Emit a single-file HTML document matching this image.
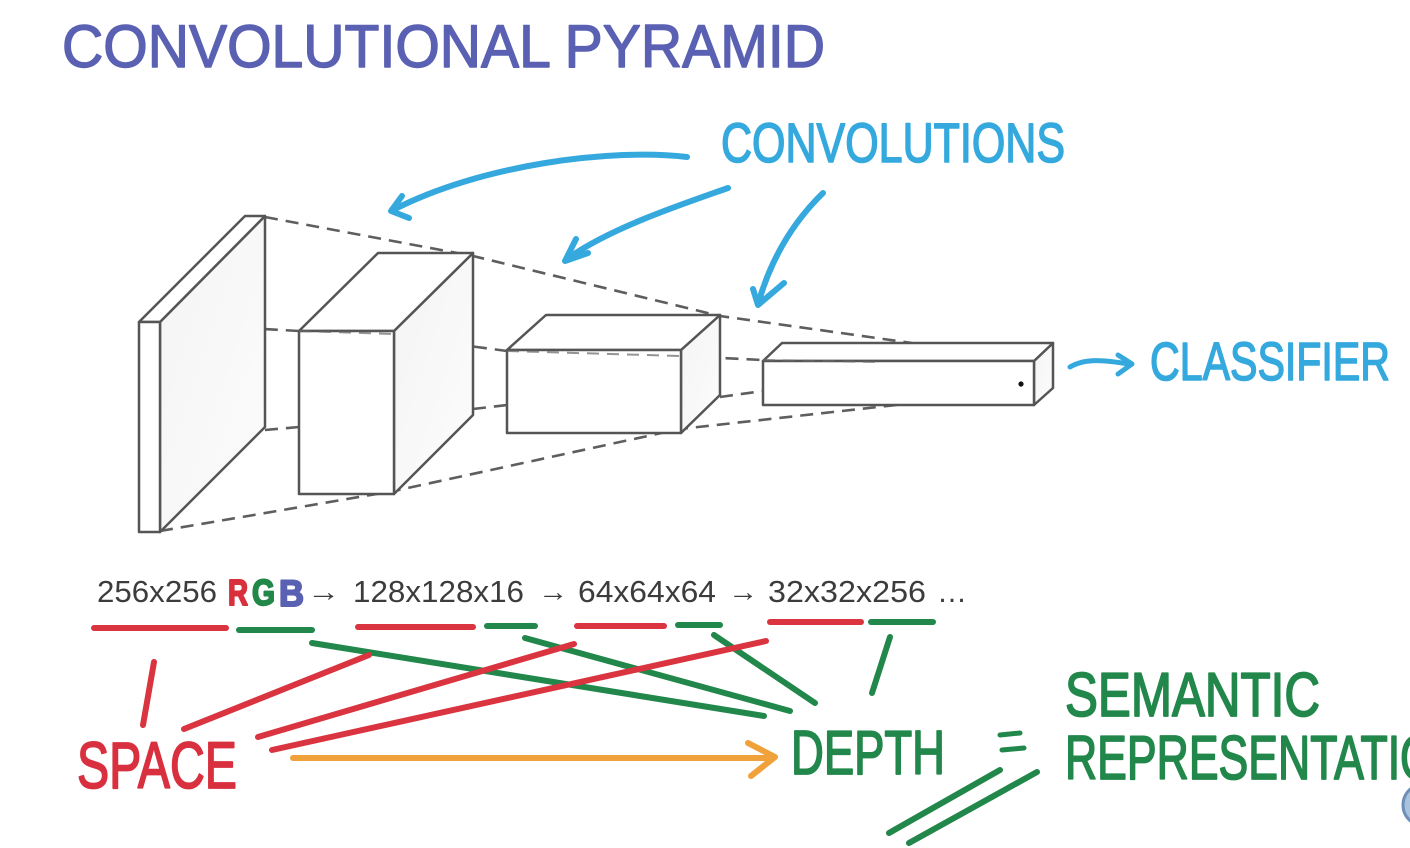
<!DOCTYPE html>
<html>
<head>
<meta charset="utf-8">
<style>
  html,body{margin:0;padding:0;background:#fff;}
  body{width:1410px;height:848px;overflow:hidden;}
  svg{display:block;}
  .hand{font-family:"Liberation Sans",sans-serif;stroke-linejoin:round;stroke-linecap:round;}
  .num{font-family:"Liberation Sans",sans-serif;fill:#3c3c3c;}
</style>
</head>
<body>
<svg width="1410" height="848" viewBox="0 0 1410 848" xmlns="http://www.w3.org/2000/svg">
  <defs>
    <linearGradient id="g1" x1="0" y1="0" x2="1" y2="1">
      <stop offset="0" stop-color="#f4f4f4"/>
      <stop offset="1" stop-color="#fcfcfc"/>
    </linearGradient>
  </defs>
  <rect width="1410" height="848" fill="#fff"/>

  <!-- Title -->
  <text class="hand" x="62" y="67" font-size="60" textLength="763" lengthAdjust="spacingAndGlyphs" fill="#5a60b2" stroke="#5a60b2" stroke-width="1.4">CONVOLUTIONAL PYRAMID</text>

  <!-- Dashed perspective lines -->
  <g stroke="#5e5e5e" stroke-width="2.6" stroke-dasharray="13,8" fill="none">
    <polyline points="265,217 473,256 720,316 912,343"/>
    <polyline points="160,323 299,331 394,336 507,351 681,356 762,360 880,362"/>
    <line x1="265" y1="430" x2="299" y2="427"/>
    <line x1="473" y1="409" x2="507" y2="405"/>
    <line x1="720" y1="397" x2="763" y2="391"/>
    <polyline points="160,531 394,491 680,429 905,404"/>
  </g>

  <!-- Plate 1 -->
  <g stroke="#555" stroke-width="2.5" stroke-linejoin="round">
    <polygon points="160,322 265,216 265,427 160,532" fill="url(#g1)"/>
    <polygon points="139,322 245,216 265,216 160,322" fill="#fff"/>
    <rect x="139" y="322" width="21" height="210" fill="#fff"/>
  </g>

  <!-- Box 2 -->
  <g stroke="#555" stroke-width="2.5" stroke-linejoin="round">
    <polygon points="394,331 473,253 473,415 394,494" fill="url(#g1)"/>
    <polygon points="299,331 378,253 473,253 394,331" fill="#fff"/>
    <rect x="299" y="331" width="95" height="163" fill="#fff"/>
  </g>

  <!-- Box 3 -->
  <g stroke="#555" stroke-width="2.5" stroke-linejoin="round">
    <polygon points="681,350 720,315 720,395 681,433" fill="url(#g1)"/>
    <polygon points="507,350 546,315 720,315 681,350" fill="#fff"/>
    <rect x="507" y="350" width="174" height="83" fill="#fff"/>
  </g>

  <!-- Box 4 -->
  <g stroke="#555" stroke-width="2.5" stroke-linejoin="round">
    <polygon points="1034,361 1053,343 1053,388 1034,405" fill="url(#g1)"/>
    <polygon points="763,361 782,343 1053,343 1034,361" fill="#fff"/>
    <rect x="763" y="361" width="271" height="44" fill="#fff"/>
  </g>
  <!-- dashed over box edges -->
  <g stroke="#666" stroke-width="2" stroke-dasharray="12,8" fill="none" opacity="0.7">
    <line x1="763" y1="360" x2="880" y2="362"/>
    <line x1="507" y1="351" x2="681" y2="356"/>
    <line x1="299" y1="331" x2="394" y2="334"/>
  </g>
  <circle cx="1021" cy="384" r="2.6" fill="#111"/>

  <!-- CONVOLUTIONS -->
  <text class="hand" x="721" y="162" font-size="56" textLength="344" lengthAdjust="spacingAndGlyphs" fill="#35a9de" stroke="#35a9de" stroke-width="1.6">CONVOLUTIONS</text>

  <g stroke="#35a9de" stroke-width="6" fill="none" stroke-linecap="round" stroke-linejoin="round">
    <path d="M687,157 C610,148 480,165 393,210"/>
    <path d="M402,196 L391,211 L409,218"/>
    <path d="M728,188 C680,205 610,228 567,259"/>
    <path d="M576,239 L565,261 L588,253"/>
    <path d="M823,193 C790,225 770,262 758,304"/>
    <path d="M753,289 L758,305 L784,283"/>
    <!-- classifier arrow -->
    <path d="M1070,367 C1085,358 1105,360 1128,364" stroke-width="5"/>
    <path d="M1118,355 L1132,364 L1118,374" stroke-width="5"/>
  </g>

  <!-- CLASSIFIER -->
  <text class="hand" x="1150" y="380" font-size="54" textLength="240" lengthAdjust="spacingAndGlyphs" fill="#35a9de" stroke="#35a9de" stroke-width="1.6">CLASSIFIER</text>

  <!-- Number row -->
  <text class="num" x="97" y="602" font-size="31" textLength="120" lengthAdjust="spacingAndGlyphs">256x256</text>
  <text class="hand" x="228" y="605" font-size="36" font-weight="bold" textLength="20" lengthAdjust="spacingAndGlyphs" fill="#d8303c" stroke="#d8303c" stroke-width="2">R</text>
  <text class="hand" x="252" y="605" font-size="36" font-weight="bold" textLength="23" lengthAdjust="spacingAndGlyphs" fill="#22884a" stroke="#22884a" stroke-width="2">G</text>
  <text class="hand" x="279" y="606" font-size="37" font-weight="bold" textLength="25" lengthAdjust="spacingAndGlyphs" fill="#5a60b2" stroke="#5a60b2" stroke-width="2">B</text>
  <text class="num" x="307" y="601" font-size="28" textLength="33" lengthAdjust="spacingAndGlyphs">→</text>
  <text class="num" x="353" y="602" font-size="31" textLength="171" lengthAdjust="spacingAndGlyphs">128x128x16</text>
  <text class="num" x="538" y="601" font-size="28" textLength="30" lengthAdjust="spacingAndGlyphs">→</text>
  <text class="num" x="578" y="602" font-size="31" textLength="138" lengthAdjust="spacingAndGlyphs">64x64x64</text>
  <text class="num" x="728" y="601" font-size="28" textLength="30" lengthAdjust="spacingAndGlyphs">→</text>
  <text class="num" x="768" y="602" font-size="31" textLength="158" lengthAdjust="spacingAndGlyphs">32x32x256</text>
  <text class="num" x="937" y="602" font-size="31" textLength="30" lengthAdjust="spacingAndGlyphs">…</text>

  <!-- Underlines -->
  <g stroke-width="6" stroke-linecap="round">
    <line x1="94" y1="628" x2="226" y2="628" stroke="#d9343f"/>
    <line x1="239" y1="630" x2="312" y2="630" stroke="#22874a"/>
    <line x1="358" y1="627" x2="473" y2="627" stroke="#d9343f"/>
    <line x1="487" y1="626" x2="535" y2="626" stroke="#22874a"/>
    <line x1="577" y1="626" x2="664" y2="626" stroke="#d9343f"/>
    <line x1="678" y1="625" x2="720" y2="625" stroke="#22874a"/>
    <line x1="770" y1="622" x2="861" y2="622" stroke="#d9343f"/>
    <line x1="871" y1="622" x2="933" y2="622" stroke="#22874a"/>
  </g>

  <!-- Connector lines -->
  <g stroke-width="6" stroke-linecap="round" fill="none">
    <line x1="154" y1="662" x2="143" y2="725" stroke="#d9343f"/>
    <line x1="312" y1="643" x2="764" y2="716" stroke="#22874a"/>
    <line x1="525" y1="638" x2="790" y2="711" stroke="#22874a"/>
    <line x1="714" y1="635" x2="815" y2="703" stroke="#22874a"/>
    <line x1="890" y1="637" x2="872" y2="693" stroke="#22874a"/>
    <line x1="184" y1="729" x2="369" y2="655" stroke="#d9343f"/>
    <line x1="258" y1="737" x2="574" y2="644" stroke="#d9343f"/>
    <line x1="272" y1="750" x2="766" y2="641" stroke="#d9343f"/>
    <!-- orange arrow -->
    <line x1="293" y1="758" x2="772" y2="758" stroke="#f0a13a"/>
    <path d="M748,743 L775,757 L751,776" stroke="#f0a13a" stroke-linejoin="round"/>
    <!-- equals -->
    <line x1="1000" y1="735" x2="1020" y2="733" stroke="#22874a" stroke-width="5"/>
    <line x1="1002" y1="750" x2="1024" y2="748" stroke="#22874a" stroke-width="5"/>
    <!-- double underline -->
    <line x1="889" y1="833" x2="1000" y2="770" stroke="#22874a"/>
    <line x1="909" y1="843" x2="1037" y2="772" stroke="#22874a"/>
  </g>

  <!-- Bottom labels -->
  <text class="hand" x="77" y="788" font-size="66" textLength="160" lengthAdjust="spacingAndGlyphs" fill="#d9303f" stroke="#d9303f" stroke-width="1.8">SPACE</text>
  <text class="hand" x="791" y="774" font-size="62" textLength="154" lengthAdjust="spacingAndGlyphs" fill="#22874a" stroke="#22874a" stroke-width="1.8">DEPTH</text>
  <text class="hand" x="1065" y="716" font-size="62" textLength="255" lengthAdjust="spacingAndGlyphs" fill="#22874a" stroke="#22874a" stroke-width="1.8">SEMANTIC</text>
  <text class="hand" x="1065" y="779" font-size="62" textLength="402" lengthAdjust="spacingAndGlyphs" fill="#22874a" stroke="#22874a" stroke-width="1.8">REPRESENTATION</text>

  <!-- partial circle bottom right -->
  <circle cx="1424" cy="805" r="21" fill="#a9c3de" stroke="#6d8fb8" stroke-width="3"/>
</svg>
</body>
</html>
